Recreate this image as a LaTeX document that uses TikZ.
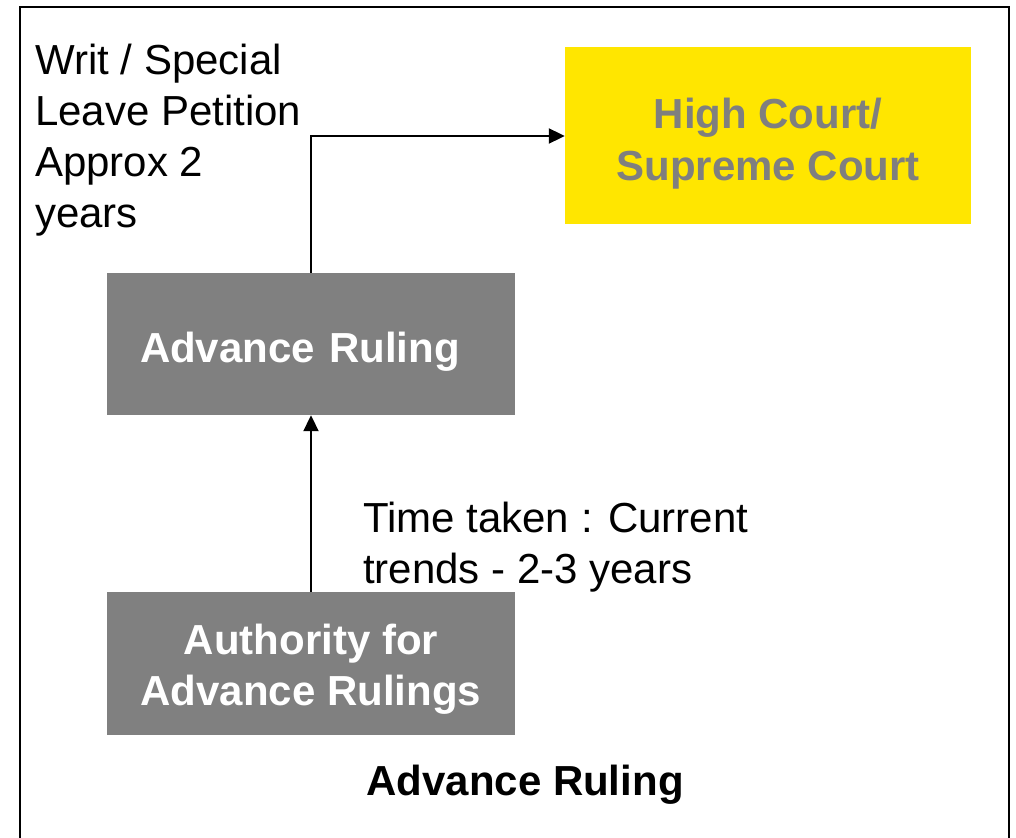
\documentclass[tikz,border=0pt]{standalone}
\usepackage{fontspec}
\setmainfont{Liberation Sans}
\usetikzlibrary{arrows.meta}
\definecolor{boxgray}{HTML}{808080}
\definecolor{eyyellow}{HTML}{FFE600}
\definecolor{txtgray}{HTML}{7F7F7F}
\begin{document}
\begin{tikzpicture}[x=1pt,y=-1pt,
  bigfont/.style={font=\fontsize{42}{51}\selectfont},
  graybox/.style={fill=boxgray,draw=none,minimum width=408pt,text=white,font=\fontsize{42}{51}\selectfont\bfseries,align=center},
  conn/.style={line width=2pt,-{Triangle[length=16pt,width=15pt]}}]
\useasboundingbox (0,0) rectangle (1016,837);
\draw[line width=2.5pt] (20,7) rectangle (1009,845);
\node[fill=eyyellow,minimum width=406pt,minimum height=177pt,text=txtgray,font=\fontsize{42}{52}\selectfont\bfseries,align=center,text height=98pt] (hc) at (768,135.5) {High Court/\\Supreme Court};
\node[graybox,minimum height=142pt,text width=342pt,inner xsep=33pt,align=left,text height=46pt] (ar) at (311,344) {Advance Ruling};
\node[graybox,minimum height=143pt,inner sep=0pt,text height=93pt] (aar) at (311,663.5) {Authority for\\Advance Rulings};
\node[bigfont,align=left,anchor=base west,inner sep=0pt] (wl) at (35,227) {Writ / Special\\Leave Petition\\Approx 2\\years};
\node[bigfont,align=left,anchor=base west,inner sep=0pt] (tt) at (363,583) {Time taken : Current\\trends - 2-3 years};
\node[font=\fontsize{42}{51}\selectfont\bfseries,anchor=base,inner sep=0pt] (cap) at (525,795) {Advance Ruling};
\coordinate (bend) at (311,136);
\draw[conn] (ar.north) -- (bend) -- (hc.west |- bend);
\draw[conn] (aar.north) -- (ar.south);
\end{tikzpicture}
\end{document}
